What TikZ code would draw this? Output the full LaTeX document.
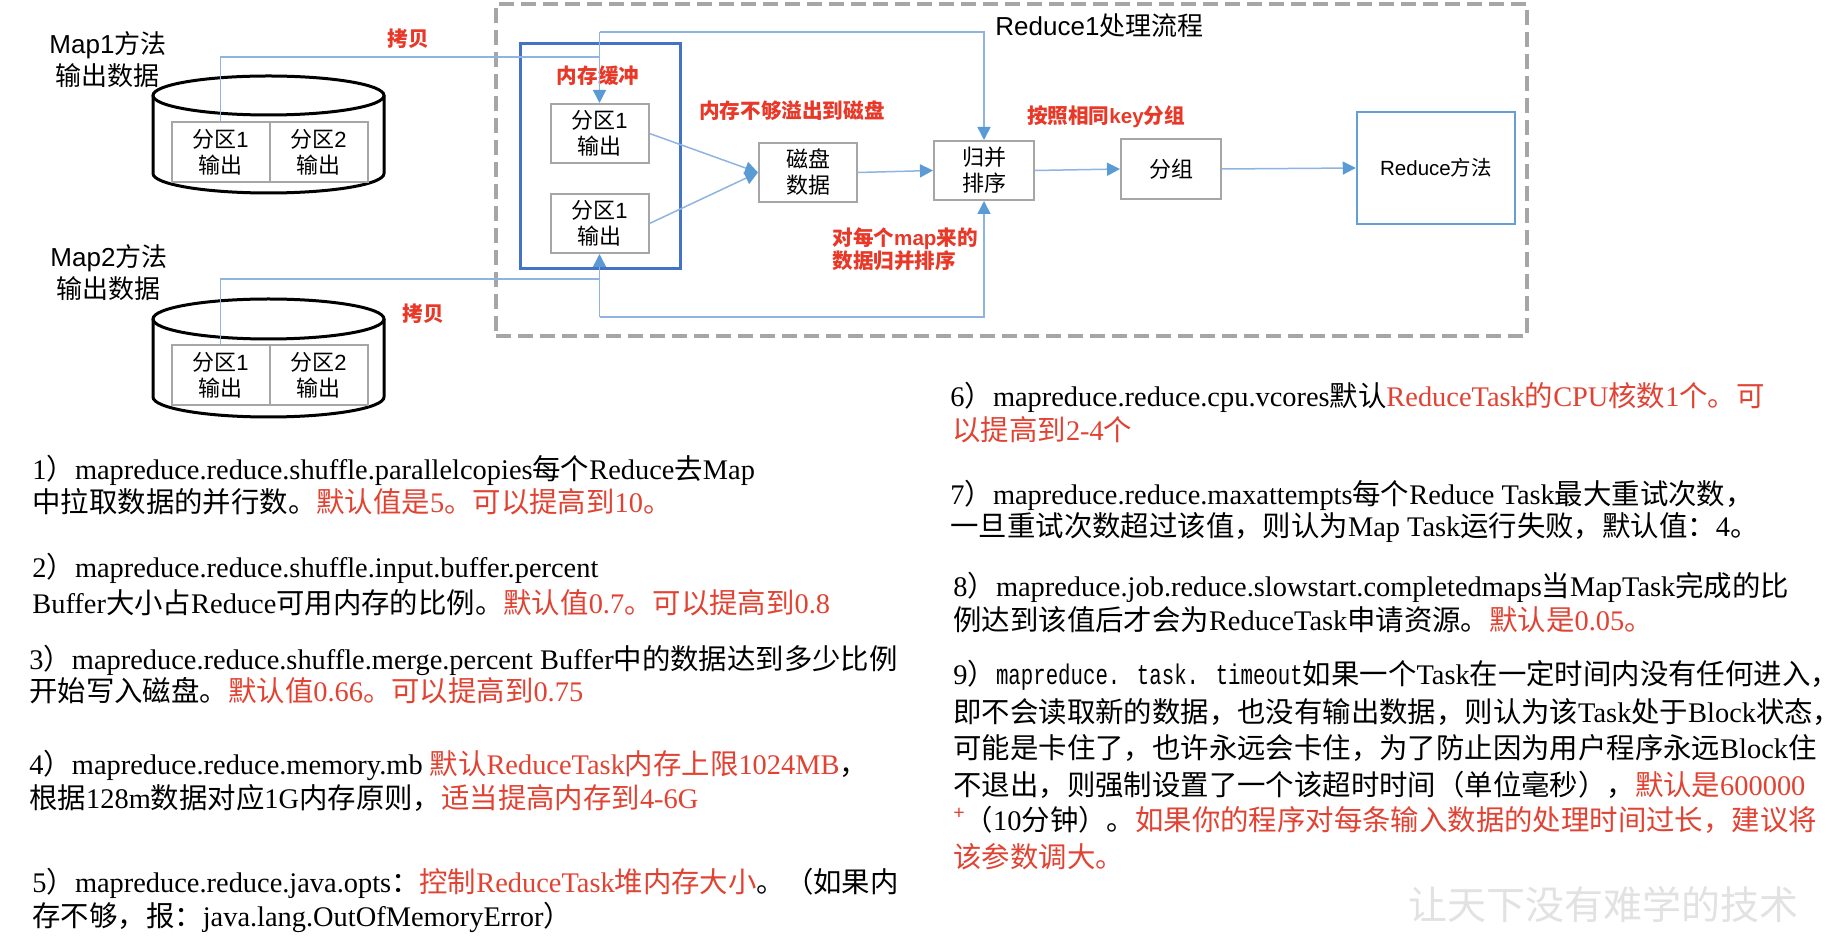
\documentclass[tikz,border=0pt]{standalone}
\usepackage{fontspec}
\setmainfont{Liberation Serif}
\setsansfont{Liberation Sans}
\newfontfamily\cjk{Noto Sans CJK SC}
\newfontfamily\bodyrm{Liberation Serif}
\newfontfamily\narrowmono[FakeStretch=0.73]{Liberation Mono}
\usetikzlibrary{arrows.meta}
\newcommand\zh[1]{{\cjk #1}}
\definecolor{boxgray}{RGB}{166,166,166}
\definecolor{bufblue}{RGB}{68,114,196}
\definecolor{redblue}{RGB}{100,160,215}
\definecolor{linkblue}{RGB}{143,180,226}
\definecolor{tipblue}{RGB}{91,155,213}
\definecolor{labred}{RGB}{233,56,40}
\definecolor{notered}{RGB}{226,66,50}
\definecolor{markgray}{RGB}{226,226,226}
\newcommand\hl[1]{\textcolor{notered}{#1}}

\begin{document}
\begin{tikzpicture}[x=0.5pt,y=-0.5pt,
  partbox/.style={draw=boxgray,line width=1pt,fill=white,minimum width=49pt,minimum height=30pt,
    inner sep=0pt,align=center,font=\sffamily\fontsize{11}{13}\selectfont},
  stepbox/.style={partbox,minimum height=29.5pt},
  maplabel/.style={align=center,inner sep=0pt,font=\sffamily\fontsize{13}{16}\selectfont},
  redlabel/.style={inner sep=0pt,text=labred,align=left,font=\sffamily\bfseries\fontsize{10.3}{11.5}\selectfont},
  conn/.style={draw=linkblue,line width=0.75pt},
  arr/.style={conn,-{Triangle[length=6.5pt,width=6.5pt,color=tipblue]}},
  cyl/.style={draw=black,line width=1.5pt},
  note/.style={anchor=west,inner sep=0pt,font=\bodyrm\fontsize{14.2}{17}\selectfont}
]
\useasboundingbox[fill=white] (0,0) rectangle (1840,940);

% ---------- Reduce stage frame ----------
\node[draw=boxgray,line width=2pt,dash pattern=on 7.5pt off 3.5pt,
      minimum width=515.5pt,minimum height=166pt,inner sep=0pt] (stage) at (1011.5,170) {};
\node[anchor=west,inner sep=0pt,font=\sffamily\fontsize{13}{16}\selectfont] (title) at (995,26) {Reduce1\zh{处理流程}};

% ---------- map side: two disks ----------
\node[maplabel] (map1) at (108,60) {Map1\zh{方法}\\\zh{输出数据}};
\node[maplabel] (map2) at (109,272.5) {Map2\zh{方法}\\\zh{输出数据}};

\draw[cyl] (153,95.5) -- (153,173.5) arc[start angle=180,end angle=360,x radius=57.75pt,y radius=9.75pt] -- (384,95.5);
\draw[cyl] (268.5,95.5) ellipse[x radius=57.75pt,y radius=9.75pt];
\draw[cyl] (153,319) -- (153,397) arc[start angle=180,end angle=360,x radius=57.75pt,y radius=10pt] -- (384,319);
\draw[cyl] (268.5,319) ellipse[x radius=57.75pt,y radius=10pt];

\node[partbox] (p11) at (220.5,152) {\zh{分区}1\\\zh{输出}};
\node[partbox] (p12) at (318.5,152) {\zh{分区}2\\\zh{输出}};
\node[partbox] (p21) at (220.5,375) {\zh{分区}1\\\zh{输出}};
\node[partbox] (p22) at (318.5,375) {\zh{分区}2\\\zh{输出}};

% ---------- memory buffer ----------
\node[draw=bufblue,line width=1.5pt,minimum width=80pt,minimum height=112.5pt,inner sep=0pt] (buf) at (600,156.5) {};
\node[stepbox] (b1) at (599.5,133.5) {\zh{分区}1\\\zh{输出}};
\node[stepbox] (b2) at (599.5,223.5) {\zh{分区}1\\\zh{输出}};

% ---------- processing steps ----------
\node[stepbox] (disk) at (808,172.5) {\zh{磁盘}\\\zh{数据}};
\node[stepbox,minimum width=50pt] (merge) at (984,170.5) {\zh{归并}\\\zh{排序}};
\node[stepbox,minimum width=50pt,minimum height=30pt] (group) at (1171,169) {\zh{分组}};
\node[draw=redblue,line width=1.25pt,minimum width=79pt,minimum height=56pt,inner sep=0pt,
      font=\sffamily\fontsize{10.25}{12}\selectfont] (reduce) at (1436,168) {Reduce\zh{方法}};

% ---------- red annotations ----------
\node[redlabel] (cp1) at (408,39) {\zh{拷贝}};
\node[redlabel] (cp2) at (423,314) {\zh{拷贝}};
\node[redlabel] (bufl) at (598,76) {\zh{内存缓冲}};
\node[redlabel] (spill) at (792,111) {\zh{内存不够溢出到磁盘}};
\node[redlabel,anchor=west] (sortl) at (832,249.5) {\zh{对每个}map\zh{来的}\\\zh{数据归并排序}};
\node[redlabel] (groupl) at (1106,117) {\zh{按照相同}key\zh{分组}};

% ---------- copy routes ----------
\coordinate (m1) at (p11.north |- 0,57);
\coordinate (j1) at (b1.north |- 0,57);
\coordinate (t1) at (b1.north |- 0,32);
\coordinate (t2) at (merge.north |- 0,32);
\draw[conn] (p11.north) -- (m1) -- (j1);
\draw[arr] (t1) -- (b1.north);
\draw[arr] (t1) -- (t2) -- (merge.north);

\coordinate (m2) at (p21.north |- 0,279);
\coordinate (j2) at (b2.south |- 0,279);
\coordinate (u1) at (b2.south |- 0,317);
\coordinate (u2) at (merge.south |- 0,317);
\draw[conn] (p21.north) -- (m2) -- (j2);
\draw[arr] (u1) -- (b2.south);
\draw[arr] (u1) -- (u2) -- (merge.south);

% ---------- flow ----------
\draw[arr] (b1.east) -- (disk.west);
\draw[arr] (b2.east) -- (disk.west);
\draw[arr] (disk.east) -- (merge.west);
\draw[arr] (merge.east) -- (group.west);
\draw[arr] (group.east) -- (reduce.west);

% ---------- tuning notes, left column ----------
\node[note] (n1a) at (32,470) {1\zh{）}mapreduce.reduce.shuffle.parallelcopies\zh{每个}Reduce\zh{去}Map};
\node[note] (n1b) at (32,502) {\zh{中拉取数据的并行数。}\hl{\zh{默认值是}5\zh{。可以提高到}10\zh{。}}};
\node[note] (n2a) at (32,568) {2\zh{）}mapreduce.reduce.shuffle.input.buffer.percent};
\node[note] (n2b) at (32,603) {Buffer\zh{大小占}Reduce\zh{可用内存的比例。}\hl{\zh{默认值}0.7\zh{。可以提高到}0.8}};
\node[note] (n3a) at (29,660) {3\zh{）}mapreduce.reduce.shuffle.merge.percent Buffer\zh{中的数据达到多少比例}};
\node[note] (n3b) at (29,691) {\zh{开始写入磁盘。}\hl{\zh{默认值}0.66\zh{。可以提高到}0.75}};
\node[note] (n4a) at (29,765) {4\zh{）}mapreduce.reduce.memory.mb \hl{\zh{默认}ReduceTask\zh{内存上限}1024MB}\zh{，}};
\node[note] (n4b) at (29,798) {\zh{根据}128m\zh{数据对应}1G\zh{内存原则，}\hl{\zh{适当提高内存到}4-6G}};
\node[note] (n5a) at (32,883) {5\zh{）}mapreduce.reduce.java.opts\zh{：}\hl{\zh{控制}ReduceTask\zh{堆内存大小}}\zh{。（如果内}};
\node[note] (n5b) at (32,917) {\zh{存不够，报：}java.lang.OutOfMemoryError\zh{）}};

% ---------- tuning notes, right column ----------
\node[note] (n6a) at (950,397) {6\zh{）}mapreduce.reduce.cpu.vcores\zh{默认}\hl{ReduceTask\zh{的}CPU\zh{核数}1\zh{个。可}}};
\node[note] (n6b) at (952,430) {\hl{\zh{以提高到}2-4\zh{个}}};
\node[note] (n7a) at (950,495) {7\zh{）}mapreduce.reduce.maxattempts\zh{每个}Reduce Task\zh{最大重试次数，}};
\node[note] (n7b) at (950,528) {\zh{一旦重试次数超过该值，则认为}Map Task\zh{运行失败，默认值：}4\zh{。}};
\node[note] (n8a) at (953,587) {8\zh{）}mapreduce.job.reduce.slowstart.completedmaps\zh{当}MapTask\zh{完成的比}};
\node[note] (n8b) at (953,620) {\zh{例达到该值后才会为}ReduceTask\zh{申请资源。}\hl{\zh{默认是}0.05\zh{。}}};
\node[note] (n9a) at (953,675) {9\zh{）}{\narrowmono mapreduce. task. timeout}\zh{如果一个}Task\zh{在一定时间内没有任何进入，}};
\node[note] (n9b) at (953,712) {\zh{即不会读取新的数据，也没有输出数据，则认为该}Task\zh{处于}Block\zh{状态，}};
\node[note] (n9c) at (953,748) {\zh{可能是卡住了，也许永远会卡住，为了防止因为用户程序永远}Block\zh{住}};
\node[note] (n9d) at (953,785) {\zh{不退出，则强制设置了一个该超时时间（单位毫秒），}\hl{\zh{默认是}600000}};
\node[note] (n9e) at (953,820) {\hl{\raisebox{0.4em}{\fontsize{10}{10}\selectfont\bfseries+}}\zh{（}10\zh{分钟）。}\hl{\zh{如果你的程序对每条输入数据的处理时间过长，建议将}}};
\node[note] (n9f) at (953,857) {\hl{\zh{该参数调大。}}};

% ---------- footer mark ----------
\node[text=markgray,inner sep=0pt,font=\fontsize{19.5}{22}\selectfont] (mark) at (1603,905) {\zh{让天下没有难学的技术}};
\end{tikzpicture}
\end{document}
